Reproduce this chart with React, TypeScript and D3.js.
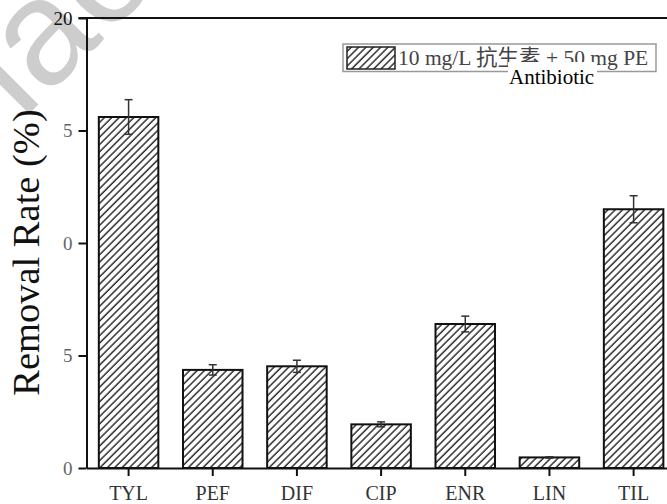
import React, { useEffect, useRef } from 'react';
import * as d3 from 'd3';

// antibiotics on the x axis
const categories = ['TYL', 'PEF', 'DIF', 'CIP', 'ENR', 'LIN', 'TIL'];
// removal rate (%) and error
const removal = [15.6, 4.36, 4.52, 1.94, 6.4, 0.47, 11.5];
const errors = [0.77, 0.23, 0.27, 0.11, 0.35, 0.03, 0.6];
// y ticks and the labels as they appear
const yTicks = [0, 5, 10, 15, 20];
const yTickLabels = ['0', '5', '0', '5', '20'];
const legendLabel = '10 mg/L 抗生素 + 50 mg PE';
const overlayLabel = 'Antibiotic';
const yTitle = 'Removal Rate (%)';
const watermark = 'lao';

const W = 667, H = 504;
const serif = '"Liberation Serif", "Times New Roman", serif';
const serifCjk = '"Liberation Serif", "Noto Sans CJK SC", serif';

export default function App() {
    const ref = useRef<SVGSVGElement>(null);

    useEffect(() => {
        const svg = d3.select(ref.current);
        svg.selectAll('*').remove();

        // plot area
        const left = 86.5, top = 18, bottom = 468;
        const step = 84.17;
        const x = d3.scaleBand()
            .domain(categories)
            .range([left, left + step * categories.length])
            .paddingInner(0.293)
            .paddingOuter(0.1465);
        const y = d3.scaleLinear().domain([0, 20]).range([bottom, top]);

        const defs = svg.append('defs');
        const pat = defs.append('pattern')
            .attr('id', 'hatch')
            .attr('patternUnits', 'userSpaceOnUse')
            .attr('width', 5.2)
            .attr('height', 5.2)
            .attr('patternTransform', 'rotate(45)');
        pat.append('rect').attr('width', 5.2).attr('height', 5.2).attr('fill', '#fff');
        pat.append('line')
            .attr('x1', 1).attr('y1', 0).attr('x2', 1).attr('y2', 5.2)
            .attr('stroke', '#222').attr('stroke-width', 1.4);

        // watermark, mostly outside the picture
        svg.append('text')
            .attr('transform', 'translate(22,121) rotate(-45)')
            .style('font-family', '"Liberation Sans", sans-serif')
            .attr('font-size', 150)
            .attr('fill', '#cdcdcd')
            .text(watermark);

        // bars
        svg.append('g').selectAll('rect')
            .data(removal)
            .enter()
            .append('rect')
            .attr('x', (d, i) => x(categories[i])!)
            .attr('y', d => y(d))
            .attr('width', x.bandwidth())
            .attr('height', d => bottom - y(d))
            .attr('fill', 'url(#hatch)')
            .attr('stroke', '#111')
            .attr('stroke-width', 2);

        // error bars
        const eb = svg.append('g').attr('stroke', '#333').attr('stroke-width', 1.5);
        removal.forEach((v, i) => {
            const cx = x(categories[i])! + x.bandwidth() / 2;
            const y1 = y(v + errors[i]), y2 = y(v - errors[i]);
            eb.append('line').attr('x1', cx).attr('x2', cx).attr('y1', y1).attr('y2', y2);
            eb.append('line').attr('x1', cx - 4).attr('x2', cx + 4).attr('y1', y1).attr('y2', y1);
            eb.append('line').attr('x1', cx - 4).attr('x2', cx + 4).attr('y1', y2).attr('y2', y2);
        });

        // y axis
        const yAxis = d3.axisLeft(y)
            .tickValues(yTicks)
            .tickFormat((d, i) => yTickLabels[i])
            .tickSize(8)
            .tickSizeOuter(0);
        const gy = svg.append('g').attr('transform', `translate(${left},0)`).call(yAxis);
        gy.select('.domain').attr('stroke', '#111').attr('stroke-width', 2);
        gy.selectAll('.tick line').attr('stroke', '#111').attr('stroke-width', 2);
        gy.selectAll('.tick text')
            .attr('x', -14)
            .style('font-family', serif)
            .style('font-size', '19px')
            .attr('fill', (d: any) => (d === 20 ? '#111' : '#666'));

        // x axis
        const xAxis = d3.axisBottom(x).tickSize(8).tickSizeOuter(0);
        const gx = svg.append('g').attr('transform', `translate(0,${bottom})`).call(xAxis);
        gx.select('.domain').attr('stroke', '#111').attr('stroke-width', 2);
        gx.selectAll('.tick line').attr('stroke', '#111').attr('stroke-width', 2);
        gx.selectAll('.tick text')
            .attr('y', 18)
            .style('font-family', serif)
            .style('font-size', '20px')
            .attr('fill', '#333');

        // top frame
        svg.append('line')
            .attr('x1', left - 8).attr('x2', left + step * categories.length)
            .attr('y1', top).attr('y2', top)
            .attr('stroke', '#111').attr('stroke-width', 2);

        // y title
        svg.append('text')
            .attr('transform', `translate(39,${(108 + 397) / 2}) rotate(-90)`)
            .attr('text-anchor', 'middle')
            .style('font-family', serif)
            .style('font-size', '38.5px')
            .attr('fill', '#111')
            .text(yTitle);

        // legend
        const lg = svg.append('g');
        lg.append('rect')
            .attr('x', 343).attr('y', 44).attr('width', 313).attr('height', 27.5)
            .attr('fill', '#fff').attr('stroke', '#999').attr('stroke-width', 1.5);
        lg.append('rect')
            .attr('x', 347).attr('y', 47).attr('width', 48).attr('height', 22)
            .attr('fill', 'url(#hatch)').attr('stroke', '#222').attr('stroke-width', 1.5);
        lg.append('text')
            .attr('x', 398).attr('y', 65)
            .style('font-family', serifCjk)
            .style('font-size', '21.5px')
            .attr('fill', '#444')
            .text(legendLabel);
        lg.append('rect')
            .attr('x', 508).attr('y', 62).attr('width', 89).attr('height', 25)
            .attr('fill', '#fff');
        lg.append('text')
            .attr('x', 509).attr('y', 84)
            .style('font-family', serif)
            .style('font-size', '21px')
            .attr('fill', '#000')
            .text(overlayLabel);
    }, []);

    return (
        <svg ref={ref} width={W} height={H}
            style={{ position: 'absolute', left: 0, top: 0, background: '#fff' }} />
    );
}
